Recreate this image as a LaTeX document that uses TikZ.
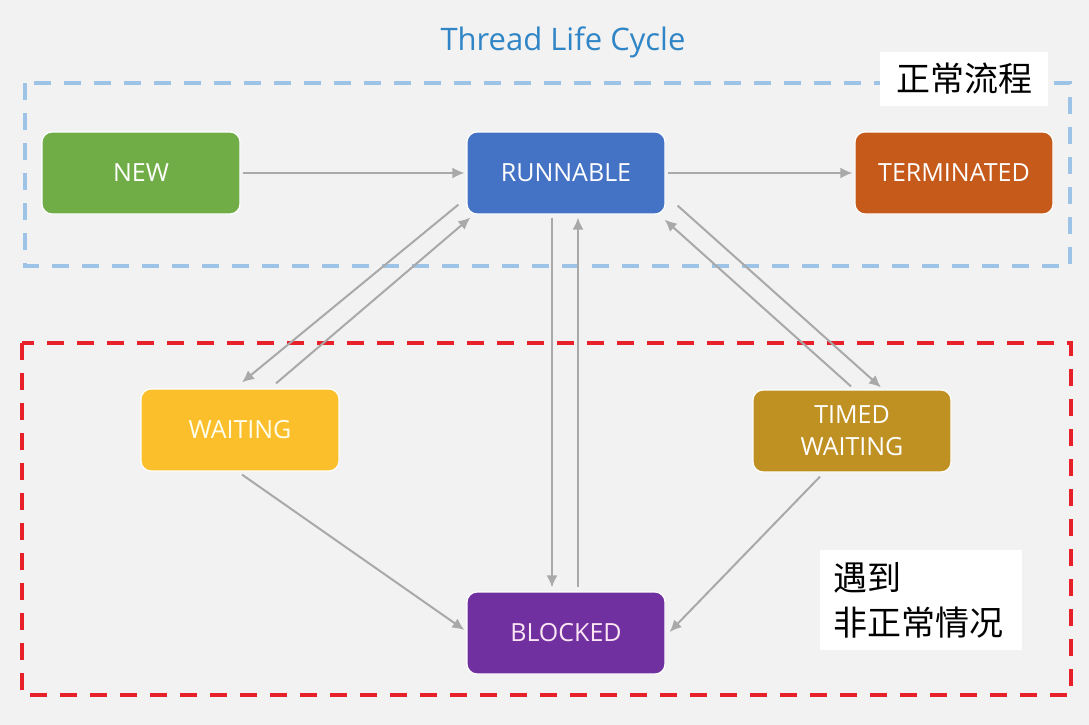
\documentclass[tikz,border=0pt]{standalone}
\usepackage{fontspec}
\setmainfont{Open Sans}
\newfontfamily\cjk{Noto Sans CJK SC}
\usetikzlibrary{arrows.meta,positioning}
\definecolor{bggray}{HTML}{F2F2F2}
\definecolor{arrowgray}{HTML}{A9A9A9}
\definecolor{titleblue}{HTML}{2F85C6}
\definecolor{frameblue}{HTML}{9DC3E6}
\definecolor{framered}{HTML}{E8202A}
\definecolor{newgreen}{HTML}{70AD47}
\definecolor{runblue}{HTML}{4472C4}
\definecolor{termorange}{HTML}{C55A1B}
\definecolor{waityellow}{HTML}{FBBF2C}
\definecolor{timedgold}{HTML}{BF9022}
\definecolor{blockpurple}{HTML}{7030A0}

\begin{document}
\begin{tikzpicture}[x=1pt,y=-1pt,
    state/.style={draw=white,line width=1.2pt,rounded corners=10pt,minimum width=198pt,
      minimum height=82pt,inner sep=0pt,text=white,align=center,
      font=\fontsize{25}{32}\selectfont},
    flow/.style={draw=arrowgray,line width=2pt,-{Latex[length=12pt,width=11pt]}},
    frame/.style={line width=3.5pt,dash pattern=on 17pt off 13pt},
    note/.style={fill=white,text=black,font=\cjk\fontsize{34}{45}\selectfont}]
  \fill[bggray] (0,0) rectangle (1089,725);

  \node[text=titleblue,font=\fontsize{31}{36}\selectfont] (title) at (563,42) {Thread Life Cycle};

  % frames
  \draw[frame,frameblue] (25,83) rectangle (1070,266);
  \draw[frame,framered] (22,343) rectangle (1071,695);

  \node[note,minimum width=168pt,minimum height=54pt,inner sep=0pt] (normal) at (964,79) {正常流程};
  \node[note,anchor=west,align=left,text width=176pt,inner xsep=13pt,minimum height=100pt] (abnormal) at (820,600) {遇到\\非正常情况};

  % states
  \node[state,fill=newgreen] (new) at (141,173) {NEW};
  \node[state,fill=runblue] (run) at (566,173) {RUNNABLE};
  \node[state,fill=termorange] (term) at (954,173) {TERMINATED};
  \node[state,fill=waityellow,text=white!92!yellow] (wait) at (240,430) {WAITING};
  \node[state,fill=timedgold] (timed) at (852,431) {TIMED\\WAITING};
  \node[state,fill=blockpurple,text=white!90!magenta] (block) at (566,633) {BLOCKED};

  % transitions
  \draw[flow,shorten <=2pt,shorten >=2pt] (new) -- (run);
  \draw[flow,shorten <=2pt,shorten >=2pt] (run) -- (term);
  \draw[flow] ([shift={(-8,-10)}]run.south west) -- ([shift={(2,-6)}]wait.north);
  \draw[flow] ([shift={(36,-5)}]wait.north) -- ([shift={(4,3)}]run.south west);
  \draw[flow] ([shift={(12,-9)}]run.south east) -- ([shift={(29,-2)}]timed.north);
  \draw[flow] ([shift={(-1,-3)}]timed.north) -- ([shift={(-1,5)}]run.south east);
  \draw[flow] ([shift={(-14,3)}]run.south) -- ([shift={(-14,-4)}]block.north);
  \draw[flow] ([shift={(12,-4)}]block.north) -- ([shift={(12,3)}]run.south);
  \draw[flow] ([shift={(2,3)}]wait.south) -- ([shift={(-2,-3)}]block.west);
  \draw[flow] ([shift={(-32,4)}]timed.south) -- ([shift={(4,-1)}]block.east);
\end{tikzpicture}
\end{document}
